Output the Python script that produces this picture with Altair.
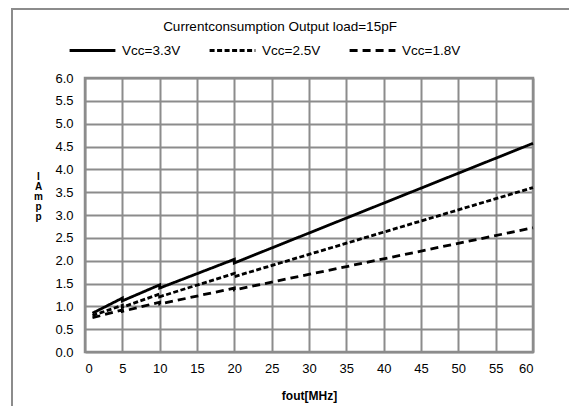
import altair as alt
import pandas as pd

series_names = ["Vcc=3.3V", "Vcc=2.5V", "Vcc=1.8V"]
fout_33 = [1, 5, 5, 10, 10, 20, 20, 60]
iamp_33 = [0.85, 1.18, 1.12, 1.47, 1.40, 2.03, 1.95, 4.57]
fout_25 = [1, 5, 5, 10, 10, 20, 20, 60]
iamp_25 = [0.80, 1.02, 0.98, 1.27, 1.21, 1.72, 1.65, 3.60]
fout_18 = [1, 5, 5, 10, 10, 20, 20, 60]
iamp_18 = [0.75, 0.92, 0.89, 1.09, 1.05, 1.40, 1.36, 2.72]

x_ticks = list(range(0, 61, 5))
y_ticks = [i * 0.5 for i in range(13)]
title_text = "Currentconsumption Output load=15pF"

rows = []
for name, xs, ys in [(series_names[0], fout_33, iamp_33),
                     (series_names[1], fout_25, iamp_25),
                     (series_names[2], fout_18, iamp_18)]:
    for i, (x, y) in enumerate(zip(xs, ys)):
        rows.append({"series": name, "fout": x, "iamp": y, "order": i})
df = pd.DataFrame(rows)

FONT = "Liberation Sans"
GRID = "#8c8c8c"

lines = alt.Chart(df).mark_line(color="black", strokeWidth=2.8, clip=False).encode(
    x=alt.X("fout:Q", scale=alt.Scale(domain=[0, 60], nice=False),
            axis=alt.Axis(values=x_ticks, title="fout[MHz]", grid=True, ticks=False,
                          labelPadding=10, titlePadding=15, titleFontWeight="bold",
                          titleFontSize=12, labelFontSize=13, domain=False)),
    y=alt.Y("iamp:Q", scale=alt.Scale(domain=[0, 6], nice=False),
            axis=alt.Axis(values=y_ticks, format=".1f", grid=True, ticks=False,
                          labelPadding=12, labelFontSize=13, domain=False,
                          title=["I", "A", "m", "p", "p"], titleAngle=0,
                          titleFontSize=10, titleFontWeight="bold", titleLineHeight=10,
                          titleX=-47, titleY=93, titleAlign="center", titleBaseline="top")),
    strokeDash=alt.StrokeDash("series:N",
                              scale=alt.Scale(domain=series_names,
                                              range=[[1, 0], [5, 2.5], [8, 5]]),
                              legend=alt.Legend(title=None, orient="none", direction="horizontal",
                                                legendX=-17, legendY=-52,
                                                symbolType="stroke", symbolSize=2100,
                                                symbolStrokeWidth=2.8, symbolStrokeColor="black",
                                                labelFontSize=13.5, labelOffset=5,
                                                columnPadding=22, labelLimit=200)),
    order="order:Q",
)

border = alt.Chart(pd.DataFrame({"a": [0]})).mark_rect(
    fill=None, stroke="#8c8c8c", strokeWidth=2, clip=False
).encode(x=alt.value(-73), x2=alt.value(700), y=alt.value(-69), y2=alt.value(500))

title = alt.Chart(pd.DataFrame({"t": [title_text]})).mark_text(
    fontSize=13.5, font=FONT, color="black", align="center", baseline="middle"
).encode(text="t:N", x=alt.value(195), y=alt.value(-51))

chart = alt.layer(border, lines, title).properties(
    width=448, height=274,
    autosize=alt.AutoSizeParams(type="none"),
    padding={"left": 85, "top": 78, "right": 36, "bottom": 54},
).configure(font=FONT, background="white").configure_axis(
    gridColor=GRID, gridWidth=2, gridOpacity=1, labelColor="black", titleColor="black",
    labelFont=FONT, titleFont=FONT
).configure_view(stroke=GRID, strokeWidth=2.5).configure_legend(
    labelFont=FONT, labelColor="black"
)

chart.save("out.html", embed_options={"renderer": "svg", "actions": False})
